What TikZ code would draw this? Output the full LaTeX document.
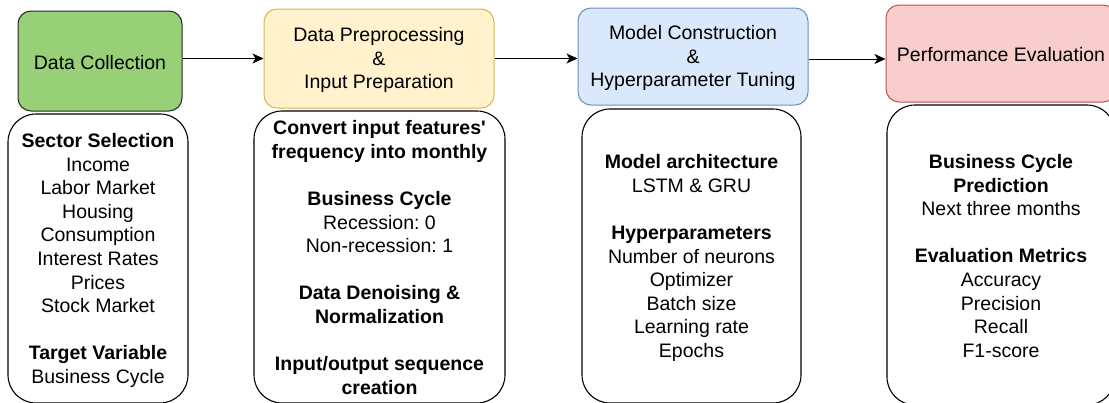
\documentclass[tikz,border=0pt]{standalone}
\usepackage{fontspec}
\setmainfont{Liberation Sans}
\usetikzlibrary{arrows.meta}
\frenchspacing

\definecolor{gfill}{HTML}{97D077}
\definecolor{yfill}{HTML}{FFF2CC}
\definecolor{ydraw}{HTML}{D6B656}
\definecolor{bfill}{HTML}{DAE8FC}
\definecolor{bdraw}{HTML}{6C8EBF}
\definecolor{rfill}{HTML}{F8CECC}
\definecolor{rdraw}{HTML}{B85450}

\tikzset{
  stage/.style={rounded corners=13pt, line width=1pt, inner sep=0pt},
  detail/.style={draw=black, line width=1.1pt, rounded corners=28pt, fill=white,
    inner sep=0pt},
  txt/.style={align=center, inner sep=0pt, font=\fontsize{19.5}{23.6}\selectfont},
  flow/.style={line width=1pt, -{Stealth[length=11pt,width=10pt,inset=3pt]}}
}

\begin{document}
\begin{tikzpicture}[x=1pt,y=-1pt]
\useasboundingbox (0,0) rectangle (1109,402);
\clip (0,0) rectangle (1109,402);

% process stages
\node[stage, fill=gfill, draw=black!85, minimum width=164pt, minimum height=100pt]
  (t1) at (100,61) {};
\node[stage, fill=yfill, draw=ydraw, minimum width=230pt, minimum height=99pt]
  (t2) at (379,58.5) {};
\node[stage, fill=bfill, draw=bdraw, minimum width=230pt, minimum height=97pt]
  (t3) at (693,56.5) {};
\node[stage, fill=rfill, draw=rdraw, minimum width=230pt, minimum height=97pt]
  (t4) at (1001,53.5) {};

\node[txt] (l1) at ([yshift=-1.5pt]t1.center) {Data Collection};
\node[txt] (l2) at ([yshift=-1.5pt]t2.center) {Data Preprocessing\\\&\\Input Preparation};
\node[txt] (l3) at ([yshift=-1.5pt]t3.center) {Model Construction\\\&\\Hyperparameter Tuning};
\node[txt] (l4) at ([yshift=-1.5pt]t4.center) {Performance Evaluation};

% details of each stage
\node[detail, minimum width=180pt, minimum height=289pt] (b1) at (98,258.5) {};
\node[detail, minimum width=251pt, minimum height=292pt] (b2) at (379.5,257) {};
\node[detail, minimum width=219pt, minimum height=294pt] (b3) at (691.5,256) {};
\node[detail, minimum width=228pt, minimum height=300pt] (b4) at (1001,255) {};

\node[txt] (d1) at ([yshift=-2pt]b1.center)
  {\textbf{Sector Selection}\\Income\\Labor Market\\Housing\\Consumption\\
   Interest Rates\\Prices\\Stock Market\\[23.6pt]
   \textbf{Target Variable}\\Business Cycle};
\node[txt] (d2) at ([yshift=-0.5pt]b2.center)
  {\textbf{Convert input features\textquotesingle}\\\textbf{frequency into monthly}\\[23.6pt]
   \textbf{Business Cycle}\\Recession: 0\\Non-recession: 1\\[23.6pt]
   \textbf{Data Denoising \&}\\\textbf{Normalization}\\[23.6pt]
   \textbf{Input/output sequence}\\\textbf{creation}};
\node[txt] (d3) at ([yshift=-2pt]b3.center)
  {\textbf{Model architecture}\\LSTM \& GRU\\[23.6pt]
   \textbf{Hyperparameters}\\Number of neurons\\Optimizer\\Batch size\\
   Learning rate\\Epochs};
\node[txt] (d4) at ([yshift=-1pt]b4.center)
  {\textbf{Business Cycle}\\\textbf{Prediction}\\Next three months\\[23.6pt]
   \textbf{Evaluation Metrics}\\Accuracy\\Precision\\Recall\\F1-score};

% flow between stages
\draw[flow] (t1.east |- t2.west) -- (t2.west);
\draw[flow] (t2.east) -- (t2.east -| t3.west);
\draw[flow] ([yshift=-2.5pt]t3.east) -- ([yshift=-2.5pt]t3.east -| t4.west);
\end{tikzpicture}
\end{document}
